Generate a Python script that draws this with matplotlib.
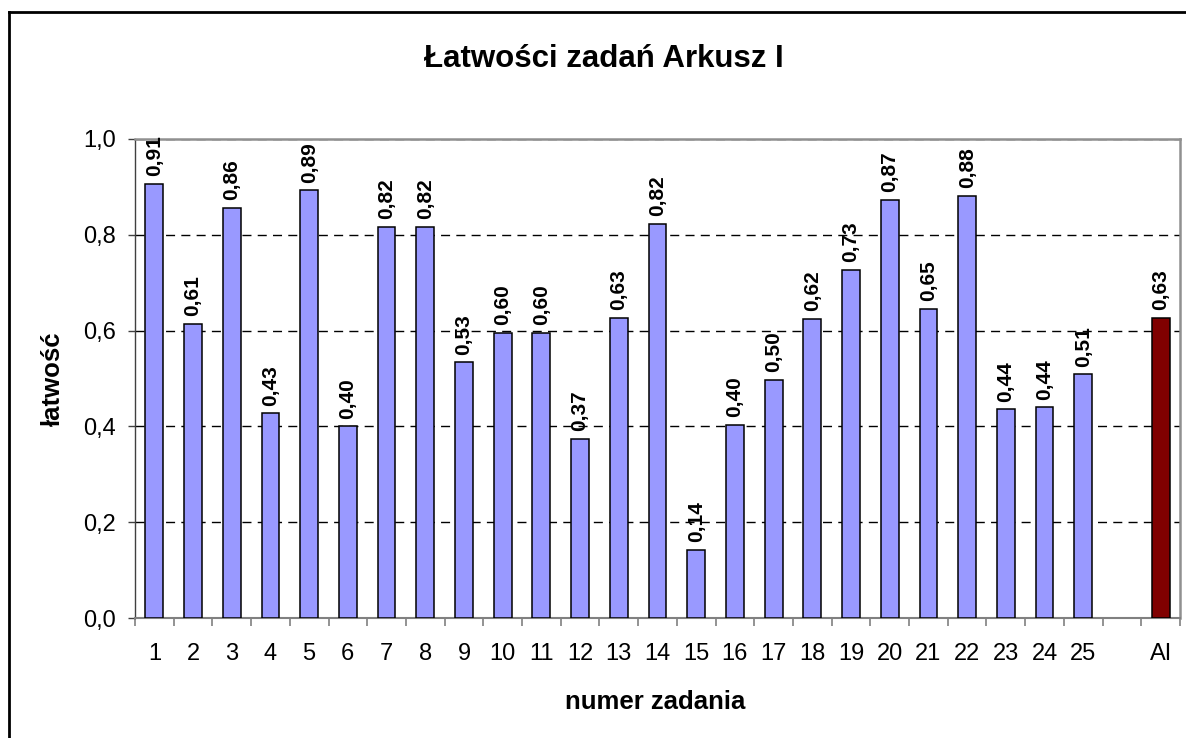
import matplotlib
matplotlib.use("Agg")
import matplotlib.pyplot as plt
from matplotlib.lines import Line2D
import numpy as np

plt.rcParams['font.family'] = ['Liberation Sans', 'DejaVu Sans']

# ---- data ----
task_labels = ["1", "2", "3", "4", "5", "6", "7", "8", "9", "10",
               "11", "12", "13", "14", "15", "16", "17", "18", "19", "20",
               "21", "22", "23", "24", "25"]
task_values = [0.906, 0.614, 0.856, 0.427, 0.893, 0.400, 0.816, 0.816, 0.534, 0.596,
               0.596, 0.374, 0.627, 0.823, 0.142, 0.403, 0.497, 0.624, 0.727, 0.873,
               0.646, 0.881, 0.436, 0.440, 0.509]
summary_label = "AI"
summary_value = 0.627
y_ticks = [0.0, 0.2, 0.4, 0.6, 0.8, 1.0]

title = "Łatwości zadań Arkusz I"
x_title = "numer zadania"
y_title = "łatwość"

# ---- figure ----
W, H = 1186, 738
fig = plt.figure(figsize=(W / 100, H / 100), dpi=100)
L, R, T, B = 135, 1180, 139, 618
ax = fig.add_axes([L / W, 1 - B / H, (R - L) / W, (B - T) / H])

all_labels = task_labels + ["", summary_label]
n = len(all_labels)
x_tasks = np.arange(len(task_labels))
x_sum = n - 1

bar_w = 0.46
ax.bar(x_tasks, task_values, width=bar_w, color="#9999FF",
       edgecolor="black", linewidth=1.1, zorder=3)
ax.bar([x_sum], [summary_value], width=bar_w, color="#800000",
       edgecolor="black", linewidth=1.1, zorder=3)

def fmt(v):
    return f"{v:.2f}".replace(".", ",")

for xi, v in list(zip(x_tasks, task_values)) + [(x_sum, summary_value)]:
    ax.annotate(fmt(v), xy=(xi, v), xytext=(0, 5.5), textcoords="offset points",
                rotation=90, ha="center", va="bottom", fontsize=15,
                fontweight="bold", zorder=4)

ax.set_xlim(-0.5, n - 0.5)
ax.set_ylim(0, 1.0)

ax.set_yticks(y_ticks)
ax.set_yticklabels([f"{t:.1f}".replace(".", ",") for t in y_ticks], fontsize=17)
ax.tick_params(axis="y", length=5, width=1, color="#404040", pad=8.5)

ax.set_xticks(np.arange(n))
ax.set_xticklabels(all_labels, fontsize=17)
ax.set_xticks(np.arange(n + 1) - 0.5, minor=True)
ax.tick_params(axis="x", which="major", length=0, pad=18)
ax.tick_params(axis="x", which="minor", length=5.5, width=1.2, color="#808080")

ax.set_axisbelow(True)
ax.yaxis.grid(True, color="black", linewidth=1.0, linestyle=(0, (6.5, 4.5)))

ax.spines["left"].set_color("#404040")
ax.spines["left"].set_linewidth(1.0)
ax.spines["bottom"].set_color("#808080")
ax.spines["bottom"].set_linewidth(1.5)
ax.spines["top"].set_color("#909090")
ax.spines["top"].set_linewidth(1.8)
ax.spines["right"].set_color("#909090")
ax.spines["right"].set_linewidth(1.8)

# titles
fig.text(604 / W, 1 - 67 / H, title, ha="center", va="baseline",
         fontsize=22.5, fontweight="bold")
fig.text(655.5 / W, 1 - 709 / H, x_title, ha="center", va="baseline",
         fontsize=18.5, fontweight="bold")
fig.text(53 / W, 1 - 378.5 / H, y_title, ha="center", va="center",
         rotation=90, fontsize=18.5, fontweight="bold")

# outer chart border (top and left visible)
fig.add_artist(Line2D([9 / W, 1.0], [1 - 12 / H, 1 - 12 / H],
                      transform=fig.transFigure, color="black", linewidth=2))
fig.add_artist(Line2D([9 / W, 9 / W], [0, 1 - 12 / H],
                      transform=fig.transFigure, color="black", linewidth=2))

fig.savefig("out.png", dpi=100)
